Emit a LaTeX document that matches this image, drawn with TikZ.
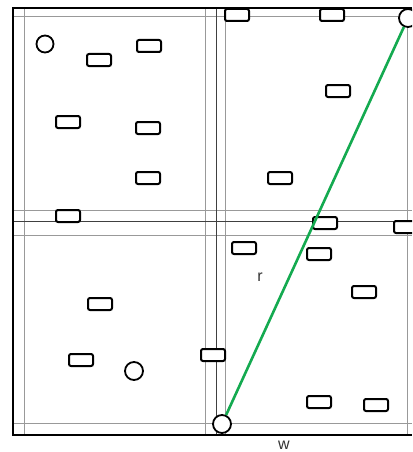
\documentclass[tikz,border=0pt]{standalone}
\usepackage{fontspec}
\setmainfont{Liberation Sans}
\begin{document}
\begin{tikzpicture}[x=1pt,y=-1pt,
  box/.style={draw=black,line width=2pt,rounded corners=2pt,fill=white,minimum width=24pt,minimum height=12pt,inner sep=0pt},
  ring/.style={circle,draw=black,line width=1.8pt,fill=white,minimum size=18pt,inner sep=0pt},
  gl/.style={draw=black!40,line width=0.8pt},
  gd/.style={draw=black!75,line width=0.9pt},
  lbl/.style={text=black!80,font=\fontsize{16}{18}\selectfont,inner sep=0pt}]
\useasboundingbox (0,0) rectangle (412,452);
\clip (0,0) rectangle (412,452);
% grid lines
\foreach \x in {24,205,225,407} \draw[gl] (\x,8) -- (\x,435);
\foreach \y in {16,210,235,423} \draw[gl] (13,\y) -- (412,\y);
\draw[gd] (216,8) -- (216,435);
\draw[gd] (13,221) -- (412,221);
% frame
\draw[line width=2.2pt] (412,8) -- (13,8) -- (13,435) -- (412,435);
% rectangles
\node[box] (b1) at (149,46) {};
\node[box] (b2) at (99,60) {};
\node[box] (b3) at (68,122) {};
\node[box] (b4) at (148,128) {};
\node[box] (b5) at (148,178) {};
\node[box] (b6) at (68,216) {};
\node[box] (b7) at (237,15) {};
\node[box] (b8) at (332,15) {};
\node[box] (b9) at (338,91) {};
\node[box] (b10) at (280,178) {};
\node[box] (b11) at (325,223) {};
\node[box] (b12) at (406,227) {};
\node[box] (b13) at (244,248) {};
\node[box] (b14) at (319,254) {};
\node[box] (b15) at (364,292) {};
\node[box] (b16) at (213,355) {};
\node[box] (b17) at (319,402) {};
\node[box] (b18) at (376,405) {};
\node[box] (b19) at (100,304) {};
\node[box] (b20) at (81,360) {};
% circles
\node[ring,minimum size=17pt] (c1) at (45,44) {};
\node[ring] (c2) at (134,371) {};
\node[ring] (c3) at (222,424) {};
\node[ring] (c4) at (408,18) {};
% green line
\draw[draw={rgb,255:red,20;green,170;blue,80},line width=2.6pt] (c3) -- (c4);
% labels
\node[lbl] (r) at (260,277) {r};
\node[lbl] (w) at (284,445) {w};
\end{tikzpicture}
\end{document}
